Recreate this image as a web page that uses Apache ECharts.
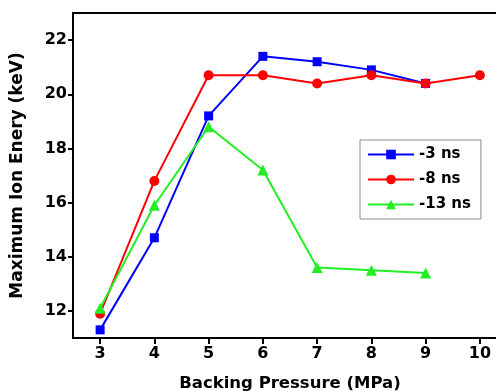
<!DOCTYPE html>
<html>
<head>
<meta charset="utf-8">
<script src="https://cdn.jsdelivr.net/npm/echarts@6/dist/echarts.min.js"></script>
<style>
  html, body { margin: 0; padding: 0; background: #fff; }
  #chart { width: 496px; height: 391px; }
</style>
</head>
<body>
<div id="chart"></div>
<script>
// backing pressure (MPa)
const pressures = [3, 4, 5, 6, 7, 8, 9, 10];
const yTicks = [12, 14, 16, 18, 20, 22];
const xTicks = [3, 4, 5, 6, 7, 8, 9, 10];

// maximum ion energy (keV)
const ns3 = [11.3, 14.7, 19.2, 21.4, 21.2, 20.9, 20.4];
const ns8 = [11.9, 16.8, 20.7, 20.7, 20.4, 20.7, 20.4, 20.7];
const ns13 = [12.1, 15.9, 18.8, 17.2, 13.6, 13.5, 13.4];

const pairs = (vals) => vals.map((v, i) => [pressures[i], v]);

const font = 'DejaVu Sans, Arial, sans-serif';
const chart = echarts.init(document.getElementById('chart'));

const mkSeries = (name, data, color, symbol, size) => ({
  name: name,
  type: 'line',
  data: pairs(data),
  symbol: symbol,
  symbolSize: size,
  color: color,
  lineStyle: {width: 2, color: color},
  itemStyle: {color: color},
  emphasis: {disabled: true}
});

chart.setOption({
  animation: false,
  grid: {
    left: 73, top: 13, width: 434, height: 325,
    outerBoundsMode: 'none', containLabel: false,
    show: true, borderColor: '#000', borderWidth: 2, backgroundColor: 'transparent'
  },
  legend: {
    orient: 'vertical',
    left: 360,
    top: 140,
    width: 118,
    borderColor: '#8c8c8c',
    borderWidth: 1,
    padding: [7, 10, 7, 7],
    itemGap: 10,
    itemWidth: 46,
    itemHeight: 12,
    textStyle: {fontFamily: font, fontWeight: 'bold', fontSize: 15, color: '#000'},
    data: ['-3 ns', '-8 ns', '-13 ns']
  },
  xAxis: {
    type: 'value',
    min: 2.5,
    max: 10.5,
    name: 'Backing Pressure (MPa)',
    nameLocation: 'middle',
    nameGap: 37,
    nameTextStyle: {fontFamily: font, fontWeight: 'bold', fontSize: 16.5, color: '#000'},
    axisLine: {lineStyle: {color: '#000', width: 2}},
    axisTick: {show: true, length: 6, inside: false, lineStyle: {width: 2}, customValues: xTicks},
    axisLabel: {fontFamily: font, fontWeight: 'bold', fontSize: 16, color: '#000', margin: 8, customValues: xTicks},
    splitLine: {show: false}
  },
  yAxis: {
    type: 'value',
    min: 11,
    max: 23,
    name: 'Maximum Ion Enery (keV)',
    nameLocation: 'middle',
    nameGap: 47,
    nameTextStyle: {fontFamily: font, fontWeight: 'bold', fontSize: 17, color: '#000'},
    axisLine: {lineStyle: {color: '#000', width: 2}},
    axisTick: {show: true, length: 5, lineStyle: {width: 2}, customValues: yTicks},
    axisLabel: {fontFamily: font, fontWeight: 'bold', fontSize: 16, color: '#000', margin: 6, customValues: yTicks},
    splitLine: {show: false}
  },
  series: [
    mkSeries('-3 ns', ns3, '#0000ff', 'rect', 9),
    mkSeries('-8 ns', ns8, '#ff0000', 'circle', 10),
    mkSeries('-13 ns', ns13, '#22ee22', 'triangle', 11)
  ]
});
</script>
</body>
</html>
